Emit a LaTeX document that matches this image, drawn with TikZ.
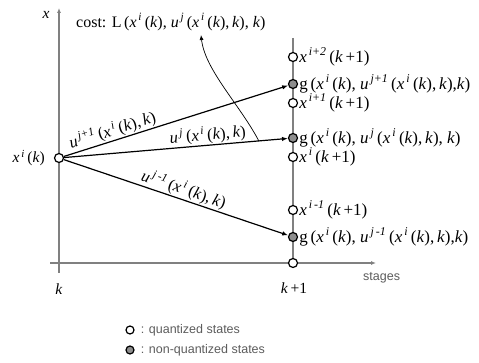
\documentclass[tikz,border=0pt]{standalone}
\usepackage{fontspec}
\setmainfont{Liberation Serif}
\newfontfamily\legendfont{Liberation Sans}
\usetikzlibrary{arrows.meta,positioning}
\definecolor{axisgray}{HTML}{808080}
\definecolor{stategray}{HTML}{8E8E8E}
\definecolor{legendgray}{HTML}{5C5C5C}

% italic pieces of the state labels
\newcommand{\mi}[1]{\textit{#1}}
\newcommand{\sps}[1]{\textsuperscript{\,\textit{#1}}\,}
\newcommand{\xik}{\mi{x}\sps{i}(\mi{k})}
\newcommand{\uxk}[1]{\mi{u}\sps{#1}(\xik,\,\mi{k})}

\begin{document}
\begin{tikzpicture}[x=1pt,y=-1pt,
  axis/.style={axisgray,line width=1.3pt,-{Latex[length=5pt,width=4pt]}},
  qstate/.style={circle,draw=black,line width=1.2pt,fill=white,inner sep=0pt,minimum size=9pt},
  nqstate/.style={qstate,fill=stategray},
  lbl/.style={inner sep=1pt,font=\fontsize{15.5}{17}\selectfont},
  slbl/.style={lbl,anchor=west,font=\fontsize{17}{19}\selectfont},
  ctrl/.style={-{Latex[length=6pt,width=4.5pt]},line width=1.2pt},
  ulbl/.style={sloped,above,inner sep=1pt,font=\fontsize{16.5}{18}\selectfont},
  legend/.style={legendgray,inner sep=1pt,font=\legendfont\fontsize{12.5}{14}\selectfont}
]
  \useasboundingbox (0,0) rectangle (479,363);

  % axes and the stage line
  \coordinate (xbot) at (59,273);
  \coordinate (xtop) at (59,8);
  \coordinate (sleft) at (50,263);
  \coordinate (sright) at (376,263);
  \draw[axis] (xbot) -- (xtop);
  \draw[axis] (sleft) -- (sright);
  \coordinate (stop) at (293,38);
  \draw[axisgray,line width=1.3pt] (stop) -- (293,263);

  \node[lbl] (xname) at (46,15) {\mi{x}};
  \node[lbl] (kname) at (59,289) {\mi{k}};
  \node[lbl] (k1name) at (294,288) {\mi{k}\,+1};
  \node[legend,anchor=west] (stages) at (362,278) {stages};

  % states at stage k+1
  \node[qstate] (q2) at (293,57) {};
  \node[nqstate] (g1) at (293,84) {};
  \node[qstate] (q1) at (293,103) {};
  \node[nqstate] (g0) at (293,138) {};
  \node[qstate] (q0) at (293,157) {};
  \node[qstate] (qm) at (293,210) {};
  \node[nqstate] (gm) at (293,237) {};
  \node[qstate] (qb) at (293,263) {};

  \node[slbl] at (q2.east) {\mi{x}\sps{i+2}(\mi{k}\,+1)};
  \node[slbl] at (g1.east) {g\,(\xik, \uxk{j+1},\mi{k})};
  \node[slbl] at (q1.east) {\mi{x}\sps{i+1}(\mi{k}\,+1)};
  \node[slbl] at (g0.east) {g\,(\xik, \uxk{j}, \mi{k})};
  \node[slbl] at (q0.east) {\mi{x}\sps{i}(\mi{k}\,+1)};
  \node[slbl] at (qm.east) {\mi{x}\sps{i\,-1}(\mi{k}\,+1)};
  \node[slbl] at (gm.east) {g\,(\xik, \uxk{j\,-1},\mi{k})};

  % state at stage k and its controls
  \node[qstate] (src) at (59,158) {};
  \node[lbl,anchor=east] (srcname) at (46,158) {\xik};

  \draw[ctrl] (src) -- node[ulbl,pos=0.23] {\uxk{j+1}} (g1);
  \draw[ctrl] (src) -- node[ulbl,pos=0.645] {\uxk{j}} coordinate[pos=0.87] (cfrom) (g0);
  \draw[ctrl] (src) -- node[ulbl,pos=0.52] {\uxk{j\,-1}} (gm);

  % stage cost
  \node[lbl,anchor=west,font=\fontsize{16}{18}\selectfont] (cost) at (75,22) {cost: L\,(\xik, \uxk{j}, \mi{k})};
  \coordinate (ctip) at (201,35);
  \draw[-{Latex[length=5pt,width=4pt]},line width=0.7pt] (cfrom) .. controls (240,105) and (205,70) .. (ctip);

  % legend
  \node[qstate,minimum size=8pt] (lq) at (130,330) {};
  \node[nqstate,minimum size=8pt] (lnq) at (130,350) {};
  \node[legend,right=5pt of lq] {: quantized states};
  \node[legend,right=5pt of lnq] {: non-quantized states};
\end{tikzpicture}
\end{document}
